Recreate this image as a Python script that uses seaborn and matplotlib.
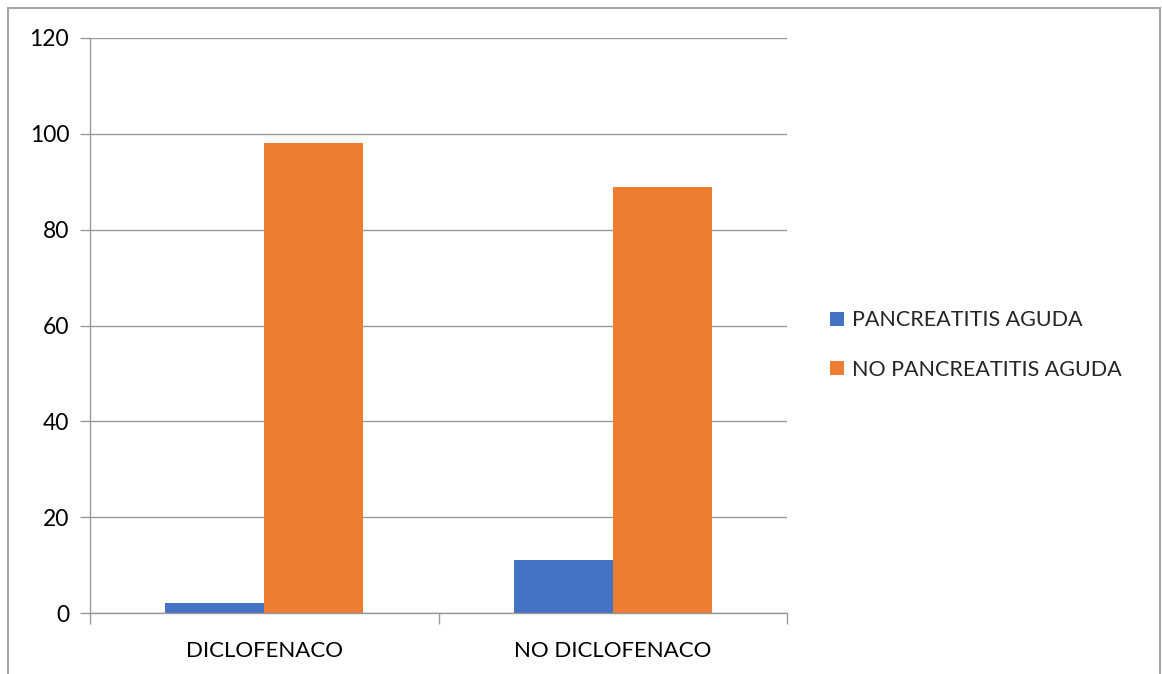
import numpy as np
import pandas as pd
import seaborn as sns
import matplotlib.pyplot as plt
from matplotlib.patches import Rectangle, Patch

categories = ["DICLOFENACO", "NO DICLOFENACO"]
series_names = ["PANCREATITIS AGUDA", "NO PANCREATITIS AGUDA"]
pancreatitis = [2, 11]
no_pancreatitis = [98, 89]
colors = ["#4472C4", "#ED7D31"]

df = pd.DataFrame({
    "grupo": categories * 2,
    "serie": [series_names[0]] * 2 + [series_names[1]] * 2,
    "valor": pancreatitis + no_pancreatitis,
})

sns.set_style("white")
plt.rcParams['font.family'] = ['Lato', 'DejaVu Sans']

fig = plt.figure(figsize=(11.62, 6.74), dpi=100)
ax = fig.add_axes([90 / 1162, 61 / 674, 697 / 1162, 575 / 674])

sns.barplot(data=df, x="grupo", y="valor", hue="serie", palette=colors,
            width=198 / 349, gap=0, saturation=1, ax=ax, legend=False,
            edgecolor="none")

grid_c = "#999999"
ax.set_ylim(0, 120)
ax.set_xlim(-0.5, 1.5)
ax.set_yticks(np.arange(0, 121, 20))
ax.yaxis.grid(True, color=grid_c, linewidth=1)
ax.set_axisbelow(True)
ax.set_xlabel("")
ax.set_ylabel("")

for s in ["top", "right"]:
    ax.spines[s].set_visible(False)
for s in ["left", "bottom"]:
    ax.spines[s].set_color(grid_c)
    ax.spines[s].set_linewidth(1)

ax.tick_params(axis="y", left=True, length=7, width=1, color=grid_c, pad=8,
               labelsize=16.5, labelcolor="black")
ax.tick_params(axis="x", which="major", bottom=False, length=0, pad=20,
               labelsize=16, labelcolor="black")
ax.set_xticks([-0.5, 0.5, 1.5], minor=True)
ax.tick_params(axis="x", which="minor", bottom=True, length=8, width=1,
               color=grid_c)

handles = [Patch(facecolor=c, edgecolor="none") for c in colors]
fig.legend(handles, series_names, loc="center left",
           bbox_to_anchor=(811 / 1162, 1 - 345 / 674), frameon=False,
           fontsize=15.5, handlelength=0.65, handleheight=0.65,
           handletextpad=0.35, labelspacing=1.35)

fig.patches.append(Rectangle((8 / 1162, -0.05), 1152 / 1162, 1.05 - 8 / 674,
                             transform=fig.transFigure, fill=False,
                             edgecolor="#a6a6a6", linewidth=1.5))

fig.savefig("out.png", dpi=100)
